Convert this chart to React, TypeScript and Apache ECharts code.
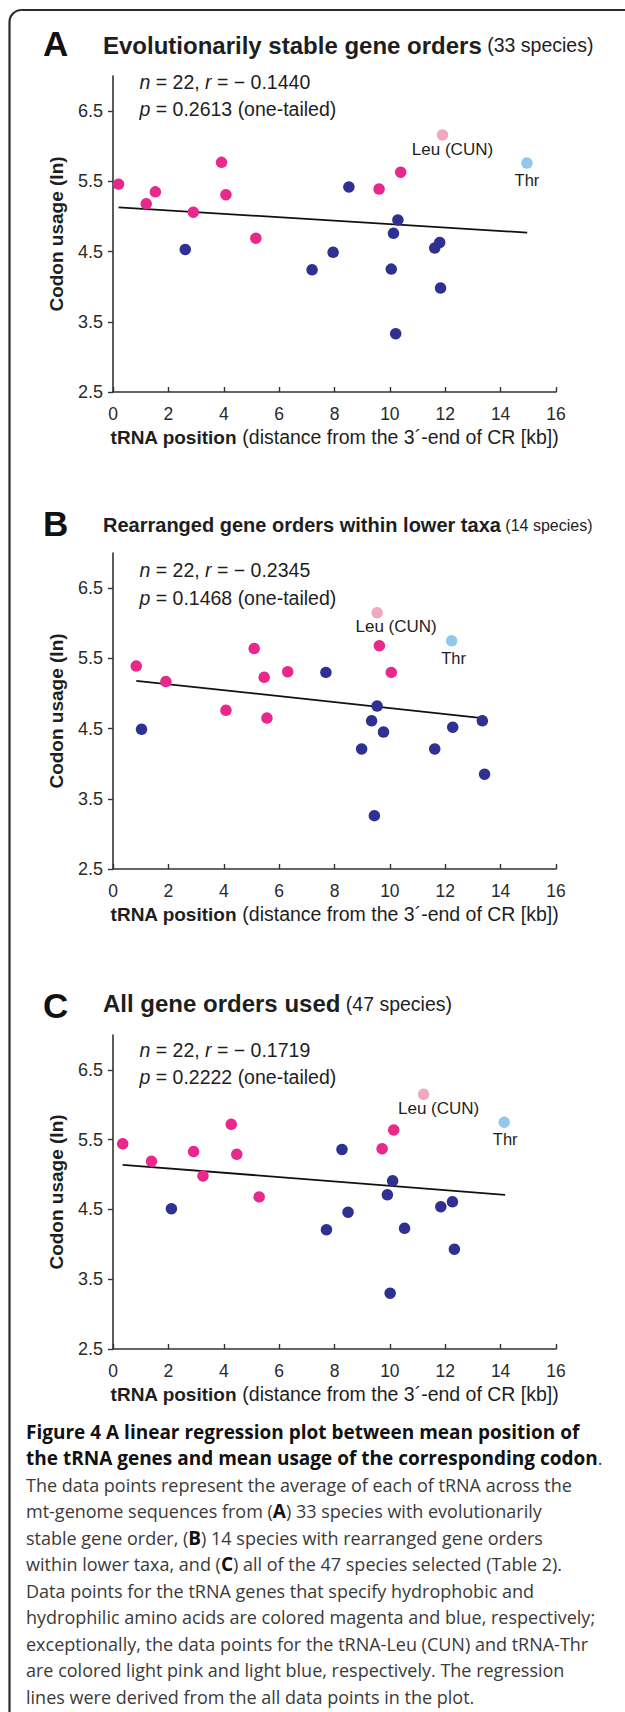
import React, { useEffect, useRef } from "react";
import * as echarts from "echarts";

// ---------- data ----------
const Y_TICK_VALUES = [2.5, 3.5, 4.5, 5.5, 6.5];

// Panel A: evolutionarily stable gene orders
const stableHydrophobic: [number, number][] = [
  [0.2, 5.46], [1.2, 5.18], [1.53, 5.35], [2.9, 5.06], [3.92, 5.77],
  [4.08, 5.31], [5.16, 4.69], [9.61, 5.39], [10.39, 5.63],
];
const stableHydrophilic: [number, number][] = [
  [2.61, 4.53], [7.19, 4.24], [7.95, 4.49], [8.52, 5.42], [10.05, 4.25],
  [10.13, 4.76], [10.21, 3.33], [10.29, 4.95], [11.62, 4.55], [11.8, 4.63], [11.83, 3.98],
];
const stableLeu: [number, number][] = [[11.9, 6.16]];
const stableThr: [number, number][] = [[14.95, 5.76]];
const stableFit: [number, number][] = [[0.2, 5.13], [14.96, 4.77]];

// Panel B: rearranged gene orders within lower taxa
const rearrHydrophobic: [number, number][] = [
  [0.84, 5.39], [1.91, 5.17], [4.08, 4.76], [5.1, 5.64], [5.46, 5.23],
  [5.56, 4.65], [6.31, 5.31], [9.62, 5.68], [10.05, 5.3],
];
const rearrHydrophilic: [number, number][] = [
  [1.03, 4.49], [7.69, 5.3], [8.98, 4.21], [9.34, 4.61], [9.44, 3.26],
  [9.54, 4.82], [9.77, 4.45], [11.62, 4.21], [12.27, 4.52], [13.34, 4.61], [13.42, 3.85],
];
const rearrLeu: [number, number][] = [[9.54, 6.15]];
const rearrThr: [number, number][] = [[12.23, 5.75]];
const rearrFit: [number, number][] = [[0.84, 5.18], [13.34, 4.65]];

// Panel C: all gene orders
const allHydrophobic: [number, number][] = [
  [0.35, 5.44], [1.39, 5.19], [2.91, 5.33], [3.25, 4.98], [4.27, 5.72],
  [4.47, 5.29], [5.28, 4.68], [9.72, 5.37], [10.14, 5.64],
];
const allHydrophilic: [number, number][] = [
  [2.11, 4.51], [7.71, 4.21], [8.27, 5.36], [8.49, 4.46], [9.91, 4.71],
  [10.01, 3.3], [10.1, 4.91], [10.53, 4.23], [11.84, 4.54], [12.26, 4.61], [12.33, 3.93],
];
const allLeu: [number, number][] = [[11.22, 6.15]];
const allThr: [number, number][] = [[14.13, 5.75]];
const allFit: [number, number][] = [[0.35, 5.14], [14.16, 4.71]];

const PANEL_LETTERS = ["A", "B", "C"];
const TITLES_BOLD = [
  "Evolutionarily stable gene orders",
  "Rearranged gene orders within lower taxa",
  "All gene orders used",
];
const TITLES_NORMAL = ["(33 species)", "(14 species)", "(47 species)"];
const R_VALUES = ["− 0.1440", "− 0.2345", "− 0.1719"];
const P_VALUES = ["0.2613", "0.1468", "0.2222"];
const N_VALUE = "22";

const CAPTION_LINES = [
  "{b|Figure 4 A linear regression plot between mean position of}",
  "{b|the tRNA genes and mean usage of the corresponding codon}.",
  "The data points represent the average of each of tRNA across the",
  "mt-genome sequences from ({b|A}) 33 species with evolutionarily",
  "stable gene order, ({b|B}) 14 species with rearranged gene orders",
  "within lower taxa, and ({b|C}) all of the 47 species selected (Table 2).",
  "Data points for the tRNA genes that specify hydrophobic and",
  "hydrophilic amino acids are colored magenta and blue, respectively;",
  "exceptionally, the data points for the tRNA-Leu (CUN) and tRNA-Thr",
  "are colored light pink and light blue, respectively. The regression",
  "lines were derived from the all data points in the plot.",
];

// ---------- styling / layout ----------
const F = "'Liberation Sans', Arial, Helvetica, sans-serif";
const CAP_F = "'Open Sans', 'Liberation Sans', Arial, sans-serif";
const MAGENTA = "#E8298B";
const BLUE = "#2E3192";
const LIGHT_PINK = "#EFA7C2";
const LIGHT_BLUE = "#92C8EC";
const AXIS = "#333333";
const TEXT = "#1e1e1e";

const PANELS = [
  { hydrophobic: stableHydrophobic, hydrophilic: stableHydrophilic, leu: stableLeu, thr: stableThr, fit: stableFit,
    grid: { left: 113, top: 76, width: 443, height: 316 },
    letterY: 43.5, titleY: 45, boldSize: 24, normalSize: 19.5, nY: 82, pY: 108.5, leuOff: 10, thrOff: 0 },
  { hydrophobic: rearrHydrophobic, hydrophilic: rearrHydrophilic, leu: rearrLeu, thr: rearrThr, fit: rearrFit,
    grid: { left: 113, top: 553, width: 443, height: 316 },
    letterY: 523.5, titleY: 525, boldSize: 20, normalSize: 16, nY: 570, pY: 597.5, leuOff: 19, thrOff: 2 },
  { hydrophobic: allHydrophobic, hydrophilic: allHydrophilic, leu: allLeu, thr: allThr, fit: allFit,
    grid: { left: 113, top: 1035, width: 443, height: 314 },
    letterY: 1005, titleY: 1003.5, boldSize: 24, normalSize: 19.5, nY: 1050, pY: 1077, leuOff: 15, thrOff: 1 },
];

function buildOption() {
  const grids: any[] = [];
  const xAxes: any[] = [];
  const yAxes: any[] = [];
  const series: any[] = [];
  const graphics: any[] = [];

  graphics.push({
    type: "rect",
    shape: { x: 9.5, y: 10, width: 720, height: 1760, r: 12 },
    style: { fill: "none", stroke: "#2b2b2b", lineWidth: 2.2 },
    silent: true,
  });

  PANELS.forEach((p, i) => {
    grids.push({ ...p.grid, containLabel: false });
    xAxes.push({
      gridIndex: i, type: "value", min: 0, max: 16, interval: 2,
      axisLine: { show: true, onZero: false, lineStyle: { color: AXIS, width: 1.6 } },
      axisTick: { show: true, inside: true, length: 5, lineStyle: { color: AXIS, width: 1.4 } },
      axisLabel: { fontFamily: F, fontSize: 17.5, color: "#2a2a2a", margin: 13 },
      splitLine: { show: false },
    });
    yAxes.push({
      gridIndex: i, type: "value", min: 2.5, max: 7,
      axisLine: { show: true, onZero: false, lineStyle: { color: AXIS, width: 1.6 } },
      axisTick: { show: true, inside: false, length: 5, customValues: Y_TICK_VALUES, lineStyle: { color: AXIS, width: 1.4 } },
      axisLabel: { fontFamily: F, fontSize: 18, color: "#2a2a2a", margin: 10, customValues: Y_TICK_VALUES,
        formatter: (v: number) => v.toFixed(1) },
      splitLine: { show: false },
    });

    series.push({
      type: "line", xAxisIndex: i, yAxisIndex: i, data: p.fit, symbol: "none", z: 1,
      lineStyle: { color: "#111", width: 1.8 }, silent: true,
    });
    const scat = (data: any, color: string, z = 2) => ({
      type: "scatter", xAxisIndex: i, yAxisIndex: i, data, symbol: "circle", symbolSize: 11.5, z,
      itemStyle: { color, opacity: 1 }, silent: true,
    });
    series.push(scat(p.hydrophobic, MAGENTA));
    series.push(scat(p.hydrophilic, BLUE));
    series.push({
      ...scat(p.leu, LIGHT_PINK),
      label: { show: true, formatter: "Leu (CUN)", position: "bottom", distance: 0, offset: [p.leuOff, 0],
        fontFamily: F, fontSize: 17, color: TEXT },
    });
    series.push({
      ...scat(p.thr, LIGHT_BLUE),
      label: { show: true, formatter: "Thr", position: "bottom", distance: 3, offset: [p.thrOff, 0],
        fontFamily: F, fontSize: 16.5, color: TEXT },
    });

    // panel letter and title
    graphics.push({
      type: "text", x: 43, y: p.letterY,
      style: { text: PANEL_LETTERS[i], fontFamily: F, fontWeight: "bold", fontSize: 35, fill: "#111", verticalAlign: "middle" },
    });
    graphics.push({
      type: "text", x: 103, y: p.titleY,
      style: {
        text: `{b|${TITLES_BOLD[i]}} {n|${TITLES_NORMAL[i]}}`,
        verticalAlign: "middle", fontSize: p.normalSize, fontFamily: F,
        rich: {
          b: { fontFamily: F, fontWeight: "bold", fontSize: p.boldSize, fill: TEXT },
          n: { fontFamily: F, fontSize: p.normalSize, fill: TEXT },
        },
      },
    });
    // statistics
    graphics.push({
      type: "text", x: 139.5, y: p.nY,
      style: {
        text: `{i|n} = ${N_VALUE}, {i|r} = ${R_VALUES[i]}`,
        verticalAlign: "middle", fontFamily: F, fontSize: 19.5, fill: TEXT,
        rich: { i: { fontFamily: F, fontStyle: "italic", fontSize: 19.5, fill: TEXT } },
      },
    });
    graphics.push({
      type: "text", x: 139.5, y: p.pY,
      style: {
        text: `{i|p} = ${P_VALUES[i]} (one-tailed)`,
        verticalAlign: "middle", fontFamily: F, fontSize: 19.5, fill: TEXT,
        rich: { i: { fontFamily: F, fontStyle: "italic", fontSize: 19.5, fill: TEXT } },
      },
    });
    // axis names
    const g = p.grid;
    graphics.push({
      type: "text", x: 56, y: g.top + g.height / 2, rotation: Math.PI / 2,
      style: { text: "Codon usage (ln)", align: "center", verticalAlign: "middle",
        fontFamily: F, fontWeight: "bold", fontSize: 19, fill: TEXT },
    });
    graphics.push({
      type: "text", x: g.left + g.width / 2, y: g.top + g.height + 45,
      style: {
        text: "{b|tRNA position} (distance from the 3´-end of CR [kb])",
        align: "center", verticalAlign: "middle", fontFamily: F, fontSize: 19.5, fill: TEXT,
        rich: { b: { fontFamily: F, fontWeight: "bold", fontSize: 19, fill: TEXT } },
      },
    });
  });

  // caption
  CAPTION_LINES.forEach((line, k) => {
    graphics.push({
      type: "text", x: 26, y: 1431.7 + k * 26.5,
      style: {
        text: line, verticalAlign: "middle", fontFamily: CAP_F, fontSize: 18, fill: "#3a3a3a",
        rich: { b: { fontFamily: CAP_F, fontWeight: "bold", fontSize: 19, fill: "#111" } },
      },
    });
  });

  return {
    animation: false,
    backgroundColor: "#ffffff",
    grid: grids,
    xAxis: xAxes,
    yAxis: yAxes,
    series,
    graphic: { elements: graphics },
  };
}

export default function App() {
  const ref = useRef<HTMLDivElement>(null);
  useEffect(() => {
    if (!ref.current) return;
    const chart = echarts.init(ref.current, undefined, { renderer: "svg" });
    chart.setOption(buildOption() as any);
    return () => chart.dispose();
  }, []);
  return (
    <div
      ref={ref}
      style={{ position: "absolute", left: 0, top: 0, width: 625, height: 1712, background: "#fff" }}
    />
  );
}
